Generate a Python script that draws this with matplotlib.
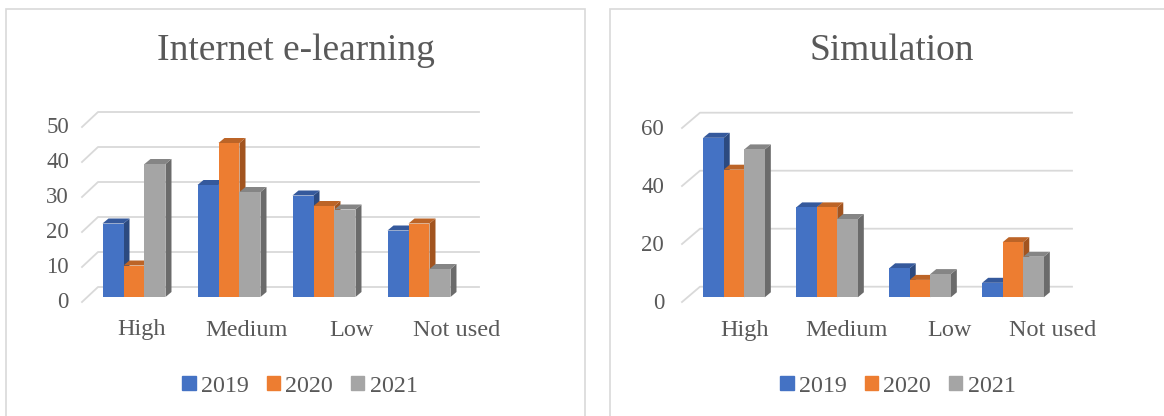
import matplotlib.pyplot as plt
from matplotlib.patches import Polygon, Rectangle, Patch

# data
categories = ['High', 'Medium', 'Low', 'Not used']
years = ['2019', '2020', '2021']
elearning_2019 = [21, 32, 29, 19]
elearning_2020 = [9, 44, 26, 21]
elearning_2021 = [38, 30, 25, 8]
simulation_2019 = [55, 31, 10, 5]
simulation_2020 = [44, 31, 6, 19]
simulation_2021 = [51, 27, 8, 14]
elearning_ticks = [0, 10, 20, 30, 40, 50]
simulation_ticks = [0, 20, 40, 60]

front = ['#4472C4', '#ED7D31', '#A5A5A5']
top = ['#35599C', '#BC6427', '#858585']
side = ['#2C4A80', '#A2541F', '#6B6B6B']
txt = '#595959'
grid = '#D9D9D9'
W, H = 1164, 416
plt.rcParams['font.family'] = ['Liberation Serif', 'DejaVu Serif']

fig = plt.figure(figsize=(W/100, H/100), dpi=100)

def px_box(l, r, t, b):
    return [l/W, 1-b/H, (r-l)/W, (b-t)/H]

def panel(box, c0, step, base, scale, series, ticks, title, title_x,
          xf, xb, xend, fdy, gdy, lab_x, lab_off, cat_y, leg_x):
    l, r, t, b = box
    fig.patches.append(Rectangle((l/W, 1-b/H), (r-l)/W, (b-t)/H, transform=fig.transFigure,
                                 fill=False, edgecolor=grid, lw=1.2))
    ax = fig.add_axes(px_box(l, r, t, b))
    ax.set_xlim((l-c0)/step, (r-c0)/step)
    ax.set_ylim((base-b)/scale, (base-t)/scale)
    ax.axis('off')
    # back wall grid
    for tk in ticks:
        ax.plot([xf, xb, xend], [tk+fdy, tk+gdy, tk+gdy], color=grid, lw=1.3, zorder=1)
        ax.text(lab_x, tk-1.7*3.5/scale, str(tk), ha='right', va='center', fontsize=16.5, color=txt)
    bw = 0.221
    dx = 6/step
    dy = 5/scale
    z = 2
    for i in range(len(categories)):
        for k in range(3):
            v = series[k][i]
            x = i + (k-1)*bw
            ax.add_patch(Polygon([(x+bw/2, 0), (x+bw/2+dx, dy), (x+bw/2+dx, v+dy), (x+bw/2, v)],
                                 closed=True, facecolor=side[k], edgecolor='none', zorder=z))
            ax.add_patch(Polygon([(x-bw/2, v), (x-bw/2+dx, v+dy), (x+bw/2+dx, v+dy), (x+bw/2, v)],
                                 closed=True, facecolor=top[k], edgecolor='none', zorder=z))
            ax.bar(x, v, bw, color=front[k], zorder=z+1)
            z += 2
        ax.text(i+lab_off+0.105*i, cat_y, categories[i], ha='center', va='center',
                fontsize=17.5, color=txt)
    fig.text(title_x/W, 1-51/H, title, ha='center', va='center', fontsize=27, color=txt)
    handles = [Patch(color=front[k], label=years[k]) for k in range(3)]
    fig.legend(handles=handles, loc='center', bbox_to_anchor=(leg_x/W, 1-386/H), ncol=3,
               frameon=False, fontsize=17.3, handlelength=0.55, handleheight=0.55,
               handletextpad=0.22, columnspacing=0.75, labelcolor=txt)

panel((6, 585, 9, 430), 134, 95, 297, 3.5,
      [elearning_2019, elearning_2020, elearning_2021], elearning_ticks,
      'Internet e-learning', 296,
      (82-134)/95, (98-134)/95, (479-134)/95, -5/3.5, 10/3.5,
      (69-134)/95, 0.084, -33/3.5, 300)

panel((610, 1170, 9, 430), 734, 93, 297.3, 2.9,
      [simulation_2019, simulation_2020, simulation_2021], simulation_ticks,
      'Simulation', 892,
      (682-734)/93, (700-734)/93, (1072-734)/93, -4.7/2.9, 10.6/2.9,
      (664-734)/93, 0.108, -32.7/2.9, 898)

fig.savefig('out.png', dpi=100)
